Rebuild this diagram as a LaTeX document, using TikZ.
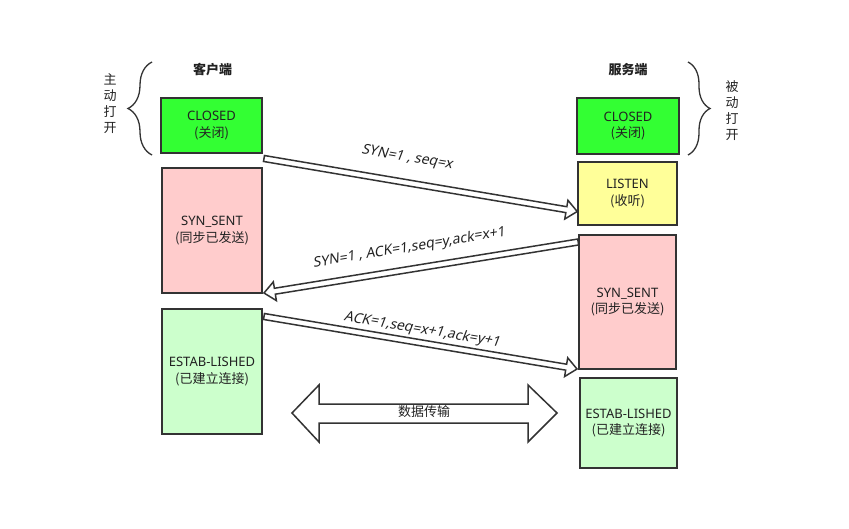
\documentclass[tikz,border=0pt]{standalone}
\usepackage{fontspec}
\setmainfont{Noto Sans}
\newfontfamily\cjk{Noto Sans CJK SC}
\newfontfamily\latit[FakeSlant=0.2]{Noto Sans}
\usetikzlibrary{calc,decorations.pathreplacing}
\definecolor{linec}{HTML}{333333}
\definecolor{txtc}{HTML}{222222}
\definecolor{closedc}{HTML}{33FF33}
\definecolor{pinkc}{HTML}{FFCCCC}
\definecolor{yellowc}{HTML}{FFFF99}
\definecolor{estabc}{HTML}{CCFFCC}
\tikzset{
  statebox/.style={draw=linec, line width=1.6pt, align=center, inner sep=0pt,
    font=\fontsize{13}{16.5}\selectfont, text=txtc},
  blockarrow/.style={draw=linec, fill=white, line width=1.5pt, line join=miter},
  msglabel/.style={font=\latit\fontsize{14}{16}\selectfont, text=txtc, inner sep=0pt},
  sidetext/.style={font=\cjk\fontsize{13}{16}\selectfont, align=center, text=txtc, inner sep=0pt},
  titletext/.style={font=\cjk\bfseries\fontsize{13}{16}\selectfont, text=txtc, inner sep=0pt},
  bracestyle/.style={draw=linec, line width=1.3pt, decorate}
}
\newcommand\blockarr[2]{%
  \coordinate (hb) at ($(#2)!11pt!(#1)$);
  \draw[blockarrow]
    ($(#1)!3pt!90:(#2)$) -- ($(hb)!3pt!-90:(#1)$) -- ($(hb)!9.5pt!-90:(#1)$) -- (#2)
    -- ($(hb)!9.5pt!90:(#1)$) -- ($(hb)!3pt!90:(#1)$) -- ($(#1)!3pt!-90:(#2)$) -- cycle;}
\begin{document}
\begin{tikzpicture}[x=1pt,y=-1pt]
\useasboundingbox[fill=white] (0,0) rectangle (849,529);

% titles
\node[titletext] (tc) at (212.5,70) {客户端};
\node[titletext] (ts) at (628,70) {服务端};

% side texts
\node[sidetext] (act) at (110,104) {主\\动\\打\\开};
\node[sidetext] (pas) at (732,111) {被\\动\\打\\开};

% braces
\coordinate (lb1) at (152,155);
\coordinate (lb2) at (152,62);
\coordinate (rb1) at (688,62);
\coordinate (rb2) at (688,155);
\draw[bracestyle, decoration={brace, amplitude=24pt}] (lb1) -- (lb2);
\draw[bracestyle, decoration={brace, amplitude=22pt}] (rb1) -- (rb2);

% client boxes
\node[statebox, fill=closedc, minimum width=101pt, minimum height=55pt] (c1) at (211.5,125.5) {CLOSED\\{\cjk (关闭)}};
\node[statebox, fill=pinkc, minimum width=100pt, minimum height=125pt] (c2) at (212,230.5) {SYN\_SENT\\{\cjk (同步已发送)}};
\node[statebox, fill=estabc, minimum width=100pt, minimum height=125pt] (c3) at (212,371.5) {ESTAB-LISHED\\{\cjk (已建立连接)}};

% server boxes
\node[statebox, fill=closedc, minimum width=102pt, minimum height=56pt] (s1) at (628,126) {CLOSED\\{\cjk (关闭)}};
\node[statebox, fill=yellowc, minimum width=99pt, minimum height=63pt] (s2) at (627.5,193.5) {LISTEN\\{\cjk (收听)}};
\node[statebox, fill=pinkc, minimum width=97pt, minimum height=134pt] (s3) at (627.5,302) {SYN\_SENT\\{\cjk (同步已发送)}};
\node[statebox, fill=estabc, minimum width=97pt, minimum height=90pt] (s4) at (628.5,423) {ESTAB-LISHED\\{\cjk (已建立连接)}};

% message arrows
\coordinate (a1s) at (264,158.5);
\coordinate (a1e) at (s2.west |- 0,211.5);
\coordinate (a2s) at (s3.west |- 0,242);
\coordinate (a2e) at (264,293);
\coordinate (a3s) at (264,316.5);
\coordinate (a3e) at (577,369);
\blockarr{a1s}{a1e}
\blockarr{a2s}{a2e}
\blockarr{a3s}{a3e}

\node[msglabel, rotate=-9.6] (l1) at (407,158) {SYN=1 , seq=x};
\node[msglabel, rotate=9.3] (l2) at (409,248) {SYN=1 , ACK=1,seq=y,ack=x+1};
\node[msglabel, rotate=-9.5] (l3) at (422,330) {ACK=1,seq=x+1,ack=y+1};

% data transfer double arrow
\draw[blockarrow] (292,413) -- (319,385) -- (319,404) -- (528,404) -- (528,385) -- (557,413)
  -- (528,442) -- (528,423) -- (319,423) -- (319,442) -- cycle;
\node[sidetext] (dt) at (424,412) {数据传输};
\end{tikzpicture}
\end{document}
